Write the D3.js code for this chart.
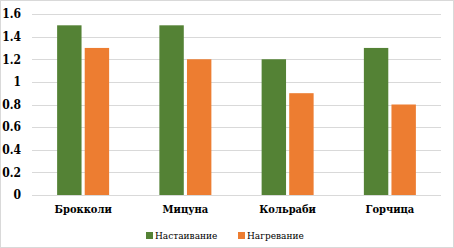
<!DOCTYPE html>
<html>
<head>
<meta charset="utf-8">
<script src="https://cdn.jsdelivr.net/npm/d3@7"></script>
<style>
  body { margin: 0; background: #fff; }
</style>
</head>
<body>
<svg width="454" height="248"></svg>
<script>
// Data
var categories = ['Брокколи', 'Мицуна', 'Кольраби', 'Горчица'];
var seriesNames = ['Настаивание', 'Нагревание'];
var infusion = [1.5, 1.5, 1.2, 1.3];
var heating = [1.3, 1.2, 0.9, 0.8];
var yTicks = [0, 0.2, 0.4, 0.6, 0.8, 1, 1.2, 1.4, 1.6];
var colors = ['#548235', '#ed7d31'];

var fontSerif = '"DejaVu Serif Condensed", "DejaVu Serif", serif';

var svg = d3.select('svg');
var svgWidth = +svg.attr('width');
var svgHeight = +svg.attr('height');

// Chart frame
svg.append('rect')
    .attr('x', 0.5).attr('y', 0.5)
    .attr('width', svgWidth - 1).attr('height', svgHeight - 1)
    .attr('fill', '#fff')
    .attr('stroke', '#d9d9d9');

var padding = {t: 14, r: 13, b: 53, l: 32};
var chartWidth = svgWidth - padding.l - padding.r;
var chartHeight = svgHeight - padding.t - padding.b;

var chartG = svg.append('g')
    .attr('transform', 'translate(' + [padding.l, padding.t] + ')');

var xScale = d3.scaleBand()
    .domain(categories)
    .range([0, chartWidth]);

var xInner = d3.scaleBand()
    .domain(seriesNames)
    .range([xScale.bandwidth() / 2 - 26, xScale.bandwidth() / 2 + 26])
    .paddingInner(0.115);

var yScale = d3.scaleLinear()
    .domain([0, 1.6])
    .range([chartHeight, 0]);

// Gridlines
chartG.append('g')
    .selectAll('line')
    .data(yTicks)
    .enter()
    .append('line')
    .attr('x1', 0)
    .attr('x2', chartWidth)
    .attr('y1', function(d) { return Math.round(yScale(d)) + 0.5; })
    .attr('y2', function(d) { return Math.round(yScale(d)) + 0.5; })
    .attr('stroke', '#d9d9d9')
    .attr('stroke-width', 1);

// Y axis labels
var yAxis = chartG.append('g')
    .attr('transform', 'translate(-11,0)')
    .call(d3.axisLeft(yScale).tickValues(yTicks).tickSize(0).tickPadding(0)
        .tickFormat(function(d) { return String(d); }));
yAxis.select('.domain').remove();
yAxis.selectAll('text')
    .style('font-family', fontSerif)
    .style('font-weight', 'bold')
    .style('font-size', '12px')
    .attr('fill', '#000');

// Bars
var groups = chartG.selectAll('.cat')
    .data(categories)
    .enter()
    .append('g')
    .attr('class', 'cat')
    .attr('transform', function(d) { return 'translate(' + [xScale(d), 0] + ')'; });

groups.selectAll('rect')
    .data(function(d, i) {
        return [
            {name: seriesNames[0], value: infusion[i], color: colors[0]},
            {name: seriesNames[1], value: heating[i], color: colors[1]}
        ];
    })
    .enter()
    .append('rect')
    .attr('x', function(d) { return xInner(d.name); })
    .attr('width', xInner.bandwidth())
    .attr('y', function(d) { return yScale(d.value); })
    .attr('height', function(d) { return chartHeight - yScale(d.value); })
    .attr('fill', function(d) { return d.color; });

// X axis labels
var xAxis = chartG.append('g')
    .attr('transform', 'translate(0,' + (chartHeight + 10) + ')')
    .call(d3.axisBottom(xScale).tickSize(0).tickPadding(0));
xAxis.select('.domain').remove();
xAxis.selectAll('text')
    .style('font-family', fontSerif)
    .style('font-weight', 'bold')
    .style('font-size', '11px')
    .attr('fill', '#000');

// Legend
var legendX = [146, 238];
var legend = svg.selectAll('.legend')
    .data(seriesNames)
    .enter()
    .append('g')
    .attr('class', 'legend')
    .attr('transform', function(d, i) { return 'translate(' + [legendX[i], 232] + ')'; });

legend.append('rect')
    .attr('width', 7)
    .attr('height', 7)
    .attr('fill', function(d, i) { return colors[i]; });

legend.append('text')
    .attr('x', 9)
    .attr('y', 3.5)
    .attr('dy', '0.35em')
    .style('font-family', fontSerif)
    .style('font-size', '10px')
    .attr('fill', '#000')
    .text(function(d) { return d; });
</script>
</body>
</html>
